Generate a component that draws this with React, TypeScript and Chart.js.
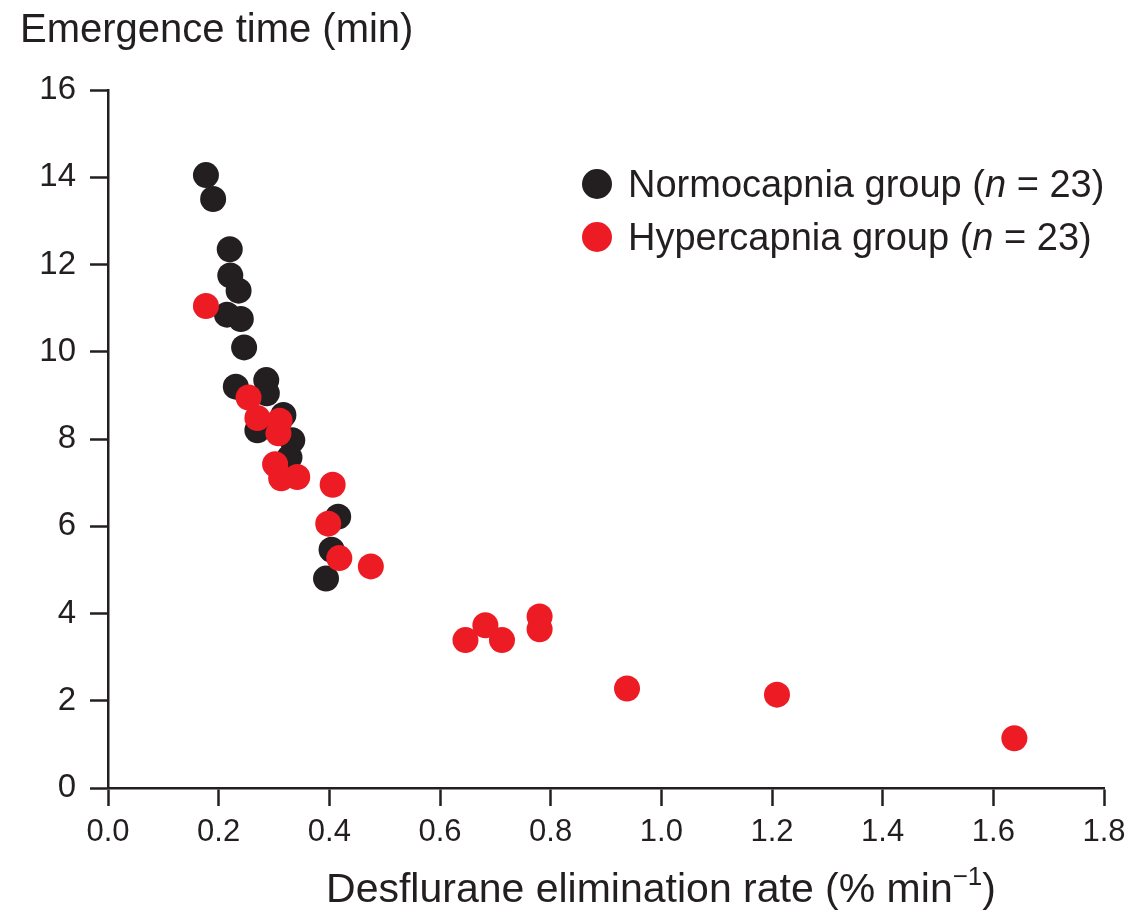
import React, { useEffect, useRef } from "react";
import { Chart, registerables } from "chart.js";

Chart.register(...registerables);

const normoX = [0.177, 0.19, 0.22, 0.221, 0.236, 0.215, 0.24, 0.246, 0.231, 0.286, 0.287, 0.317, 0.27, 0.333, 0.328, 0.416, 0.404, 0.394];
const normoY = [14.05, 13.5, 12.35, 11.75, 11.4, 10.85, 10.75, 10.1, 9.2, 9.35, 9.05, 8.55, 8.2, 7.97, 7.58, 6.22, 5.46, 4.8];

const hyperX = [0.177, 0.254, 0.27, 0.31, 0.308, 0.302, 0.313, 0.342, 0.406, 0.398, 0.418, 0.475, 0.646, 0.682, 0.712, 0.78, 0.78, 0.938, 1.209, 1.638];
const hyperY = [11.05, 8.95, 8.48, 8.42, 8.13, 7.42, 7.1, 7.13, 6.95, 6.06, 5.27, 5.08, 3.39, 3.73, 3.39, 3.93, 3.64, 2.28, 2.14, 1.14];

const xTicks = [0, 0.2, 0.4, 0.6, 0.8, 1.0, 1.2, 1.4, 1.6, 1.8];
const yTicks = [0, 2, 4, 6, 8, 10, 12, 14, 16];

const seriesNames = ["Normocapnia group", "Hypercapnia group"];
const seriesN = ["23", "23"];
const yTitle = "Emergence time (min)";
const xTitleMain = "Desflurane elimination rate (% min";
const xTitleSup = "\u22121";

const BLACK = "#231f20";
const RED = "#ed1c24";
const FONT = "'Liberation Sans', Arial, Helvetica, sans-serif";

const textPlugin = {
  id: "texts",
  afterDraw(chart: any) {
    const ctx = chart.ctx;
    ctx.save();
    ctx.fillStyle = BLACK;
    ctx.textBaseline = "alphabetic";
    ctx.textAlign = "left";
    // y title
    ctx.font = `40px ${FONT}`;
    ctx.fillText(yTitle, 20, 42);
    // x title
    ctx.font = `41px ${FONT}`;
    const w1 = ctx.measureText(xTitleMain).width;
    ctx.font = `26px ${FONT}`;
    const w2 = ctx.measureText(xTitleSup).width;
    ctx.font = `41px ${FONT}`;
    const w3 = ctx.measureText(")").width;
    const total = w1 + w2 + w3;
    let x = 661 - total / 2;
    const base = 902;
    ctx.fillText(xTitleMain, x, base);
    x += w1;
    ctx.font = `26px ${FONT}`;
    ctx.fillText(xTitleSup, x, base - 17);
    x += w2;
    ctx.font = `41px ${FONT}`;
    ctx.fillText(")", x, base);
    // legend
    const colors = [BLACK, RED];
    const rowsY = [184, 237];
    for (let i = 0; i < 2; i++) {
      ctx.fillStyle = colors[i];
      ctx.beginPath();
      ctx.arc(597, rowsY[i], 15, 0, Math.PI * 2);
      ctx.fill();
      ctx.fillStyle = BLACK;
      let tx = 628;
      const by = rowsY[i] + 13;
      ctx.font = `38px ${FONT}`;
      const p1 = seriesNames[i] + " (";
      ctx.fillText(p1, tx, by);
      tx += ctx.measureText(p1).width;
      ctx.font = `italic 38px ${FONT}`;
      ctx.fillText("n", tx, by);
      tx += ctx.measureText("n").width;
      ctx.font = `38px ${FONT}`;
      ctx.fillText(" = " + seriesN[i] + ")", tx, by);
    }
    ctx.restore();
  },
};

export default function App() {
  const ref = useRef<HTMLCanvasElement | null>(null);
  useEffect(() => {
    document.body.style.margin = "0";
    const canvas = ref.current;
    if (!canvas) return;
    const normo = normoX.map((v, i) => ({ x: v, y: normoY[i] }));
    const hyper = hyperX.map((v, i) => ({ x: v, y: hyperY[i] }));
    const chart = new Chart(canvas, {
      type: "scatter",
      data: {
        datasets: [
          {
            label: seriesNames[0],
            data: normo,
            backgroundColor: BLACK,
            borderWidth: 0,
            pointRadius: 13,
            order: 2,
          },
          {
            label: seriesNames[1],
            data: hyper,
            backgroundColor: RED,
            borderWidth: 0,
            pointRadius: 13,
            order: 1,
          },
        ],
      },
      options: {
        animation: false,
        responsive: false,
        layout: { padding: { left: 0, top: 90, right: 33, bottom: 0 } },
        plugins: {
          legend: { display: false },
          tooltip: { enabled: false },
          title: { display: false },
        },
        scales: {
          x: {
            type: "linear",
            min: 0,
            max: 1.8,
            afterBuildTicks: (s: any) => {
              s.ticks = xTicks.map((v) => ({ value: v }));
            },
            afterFit: (s: any) => {
              s.height = 136;
            },
            ticks: {
              callback: (v: any) => Number(v).toFixed(1),
              font: { family: FONT, size: 31 },
              color: BLACK,
              padding: 8,
              maxRotation: 0,
              autoSkip: false,
            },
            grid: {
              drawOnChartArea: false,
              drawTicks: true,
              tickLength: 18,
              tickWidth: 2.5,
              tickColor: BLACK,
            },
            border: { display: true, color: BLACK, width: 2.5 },
          },
          y: {
            type: "linear",
            min: 0,
            max: 16,
            afterBuildTicks: (s: any) => {
              s.ticks = yTicks.map((v) => ({ value: v }));
            },
            afterFit: (s: any) => {
              s.width = 108;
            },
            ticks: {
              callback: (v: any) => String(v),
              font: { family: FONT, size: 33 },
              color: BLACK,
              padding: 14,
              autoSkip: false,
            },
            grid: {
              drawOnChartArea: false,
              drawTicks: true,
              tickLength: 18,
              tickWidth: 2.5,
              tickColor: BLACK,
            },
            border: { display: true, color: BLACK, width: 2.5 },
          },
        },
      },
      plugins: [textPlugin],
    } as any);
    return () => chart.destroy();
  }, []);
  return (
    <div style={{ width: 1137, height: 924, background: "#fff" }}>
      <canvas ref={ref} width={1137} height={924} style={{ display: "block" }} />
    </div>
  );
}
